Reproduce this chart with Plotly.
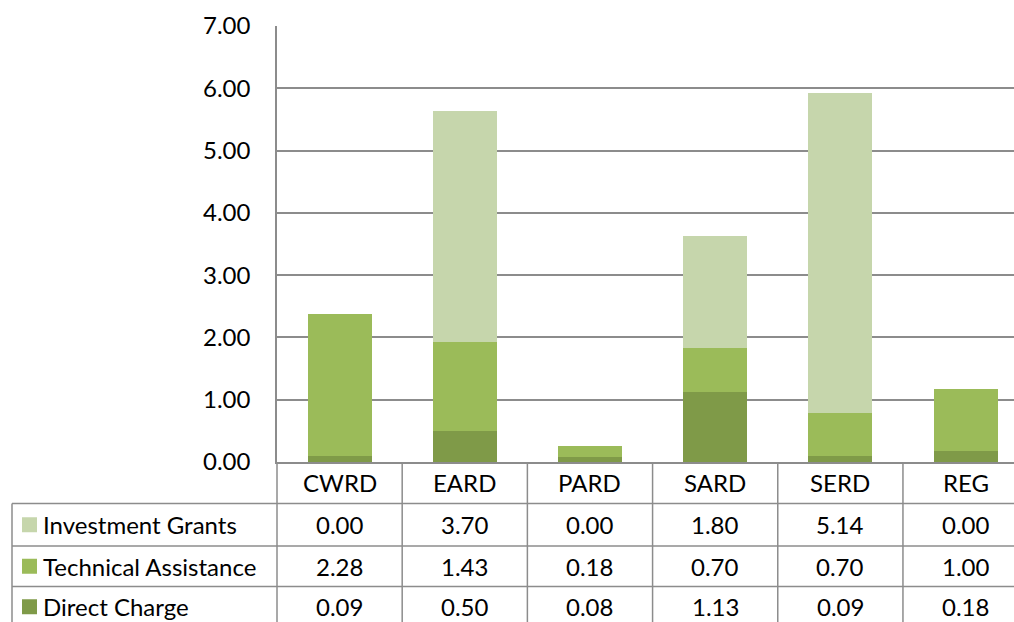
import plotly.graph_objects as go

# Funding by department, in millions
departments = ["CWRD", "EARD", "PARD", "SARD", "SERD", "REG"]
investment_grants = [0.00, 3.70, 0.00, 1.80, 5.14, 0.00]
technical_assistance = [2.28, 1.43, 0.18, 0.70, 0.70, 1.00]
direct_charge = [0.09, 0.50, 0.08, 1.13, 0.09, 0.18]
y_ticks = [0, 1, 2, 3, 4, 5, 6, 7]

series = [
    ("Direct Charge", direct_charge, "#7F9A48"),
    ("Technical Assistance", technical_assistance, "#9BBB59"),
    ("Investment Grants", investment_grants, "#C6D6AC"),
]

W, H = 1014, 622
M_L, M_R, M_T, M_B = 277, 0, 26, 160
PLOT_W = W - M_L - M_R
PLOT_H = H - M_T - M_B
X_RANGE = [-0.5, 5.387]

FONT = "Lato, 'Open Sans', sans-serif"
FSIZE = 24
GRID = "#8C8C8C"

def px_to_paper_y(py):
    return (H - M_B - py) / PLOT_H

def px_to_paper_x(px):
    return (px - M_L) / PLOT_W

def cat_to_paper_x(c):
    return (c - X_RANGE[0]) / (X_RANGE[1] - X_RANGE[0])

fig = go.Figure()
for name, vals, color in series:
    fig.add_trace(go.Bar(
        x=departments, y=vals, name=name,
        marker=dict(color=color, line=dict(width=0)),
        hoverinfo="skip",
    ))

# Data table under the plot
row_top = [462, 503.5, 546, 586.5, 627]      # pixel edges of the rows
row_mid = [(row_top[i] + row_top[i + 1]) / 2 for i in range(4)]

shapes = []
line = dict(color=GRID, width=1.5)
# horizontal rules across the table
for py in row_top[1:4]:
    shapes.append(dict(type="line", xref="paper", yref="paper",
                       x0=px_to_paper_x(12), x1=1.0,
                       y0=px_to_paper_y(py), y1=px_to_paper_y(py), line=line))
# left edge of the legend column
shapes.append(dict(type="line", xref="paper", yref="paper",
                   x0=px_to_paper_x(12), x1=px_to_paper_x(12),
                   y0=px_to_paper_y(row_top[1]), y1=px_to_paper_y(H + 5), line=line))
# column separators at category boundaries
for i in range(len(departments)):
    xb = cat_to_paper_x(i - 0.5)
    if xb <= 1.0:
        shapes.append(dict(type="line", xref="paper", yref="paper",
                           x0=xb, x1=xb, y0=0, y1=px_to_paper_y(H + 5), line=line))

annotations = []
# header row: department names
for i, d in enumerate(departments):
    annotations.append(dict(x=d, xref="x", y=px_to_paper_y(row_mid[0]), yref="paper",
                            text=d, showarrow=False, xanchor="center", yanchor="middle",
                            font=dict(family=FONT, size=FSIZE, color="#000000")))

table_rows = [
    ("Investment Grants", investment_grants, "#C6D6AC"),
    ("Technical Assistance", technical_assistance, "#9BBB59"),
    ("Direct Charge", direct_charge, "#7F9A48"),
]
for r, (name, vals, color) in enumerate(table_rows):
    ym = row_mid[r + 1]
    shapes.append(dict(type="rect", xref="paper", yref="paper",
                       x0=px_to_paper_x(22), x1=px_to_paper_x(37),
                       y0=px_to_paper_y(ym - 7.5), y1=px_to_paper_y(ym + 7.5),
                       fillcolor=color, line=dict(width=0)))
    annotations.append(dict(x=px_to_paper_x(41), xref="paper", y=px_to_paper_y(ym), yref="paper",
                            text=name, showarrow=False, xanchor="left", yanchor="middle",
                            font=dict(family=FONT, size=FSIZE, color="#000000")))
    for i, v in enumerate(vals):
        annotations.append(dict(x=departments[i], xref="x", y=px_to_paper_y(ym), yref="paper",
                                text=f"{v:.2f}", showarrow=False, xanchor="center", yanchor="middle",
                                font=dict(family=FONT, size=FSIZE, color="#000000")))

fig.update_layout(
    width=W, height=H,
    margin=dict(l=M_L, r=M_R, t=M_T, b=M_B, pad=0),
    barmode="stack", bargap=0.489,
    paper_bgcolor="white", plot_bgcolor="white",
    showlegend=False,
    shapes=shapes, annotations=annotations,
    xaxis=dict(range=X_RANGE, showticklabels=False, ticks="", showgrid=False,
               showline=True, linecolor=GRID, linewidth=1.5, zeroline=False,
               categoryorder="array", categoryarray=departments),
    yaxis=dict(range=[0, 7], tickvals=y_ticks, tickformat=".2f",
               showgrid=True, gridcolor=GRID, gridwidth=1.5,
               showline=True, linecolor=GRID, linewidth=1.5, zeroline=False,
               ticks="", ticklabelstandoff=20,
               tickfont=dict(family=FONT, size=FSIZE, color="#000000")),
)

fig.write_html("out.html")
